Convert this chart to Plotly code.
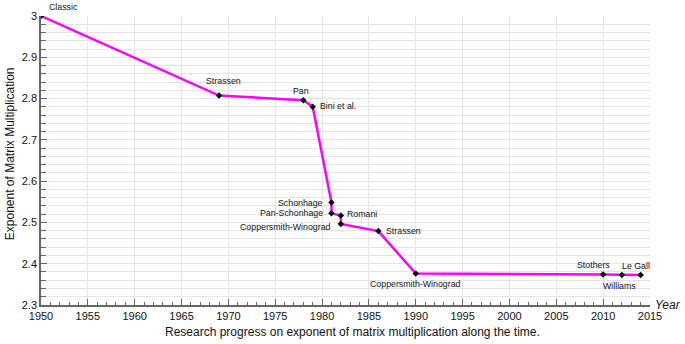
import plotly.graph_objects as go

# ---- data ----
years = [1950, 1969, 1978, 1979, 1981, 1981, 1982, 1982, 1986, 1990, 2010, 2012, 2014]
omega = [3.0, 2.8074, 2.796, 2.780, 2.548, 2.522, 2.517, 2.496, 2.479, 2.376, 2.374, 2.3729, 2.3728639]
names = ["Classic", "Strassen", "Pan", "Bini et al.", "Schonhage", "Pan-Schonhage",
         "Romani", "Coppersmith-Winograd", "Strassen", "Coppersmith-Winograd",
         "Stothers", "Williams", "Le Gall"]
x_ticks = list(range(1950, 2016, 5))

# ---- label placement (style) : (xanchor, xshift, yshift) ----
placement = [
    ("left", 6, 9),
    ("center", 4, 14.5),
    ("center", -2, 9.5),
    ("left", 5, 0.5),
    ("right", -6, 0),
    ("right", -6.5, 0),
    ("left", 4, 1.5),
    ("right", -8, -3.3),
    ("left", 6, 0),
    ("center", 0, -10.5),
    ("center", -10, 9),
    ("center", -2, -11),
    ("center", -5, 8.5),
]

FONT = "Liberation Sans, Arial, Helvetica, sans-serif"

fig = go.Figure()
fig.add_trace(go.Scatter(
    x=years, y=omega, mode="lines+markers",
    line=dict(color="#ff00ff", width=2.5),
    marker=dict(symbol="diamond", size=5, color="black"),
    hoverinfo="x+y", showlegend=False,
))

annotations = []
for xv, yv, name, (xa, xs, ys) in zip(years, omega, names, placement):
    annotations.append(dict(
        x=xv, y=yv, xref="x", yref="y", text=name, showarrow=False,
        xanchor=xa, yanchor="middle", xshift=xs, yshift=ys,
        font=dict(family=FONT, size=8.8, color="#111"),
    ))

annotations.append(dict(
    x=0.512, y=-0.095, xref="paper", yref="paper", showarrow=False,
    text="Research progress on exponent of matrix multiplication along the time.",
    xanchor="center", yanchor="middle",
    font=dict(family=FONT, size=12, color="#111"),
))
annotations.append(dict(
    x=-0.051, y=0.525, xref="paper", yref="paper", showarrow=False,
    text="Exponent of Matrix Multiplication", textangle=-90,
    xanchor="center", yanchor="middle",
    font=dict(family=FONT, size=12, color="#111"),
))
annotations.append(dict(
    x=1.0545, y=0.0, xref="paper", yref="paper", showarrow=False,
    text="<i>Year</i>", xanchor="right", yanchor="middle",
    font=dict(family=FONT, size=12, color="#111"),
))

axis_color = "#666666"
grid_color = "#e4e4e4"

fig.update_layout(
    width=685, height=344,
    margin=dict(l=41, r=35, t=10, b=39),
    paper_bgcolor="white", plot_bgcolor="white",
    font=dict(family=FONT, color="#111"),
    annotations=annotations,
    xaxis=dict(
        range=[1950, 2015], tickvals=x_ticks, ticktext=[str(v) for v in x_ticks],
        showgrid=True, gridcolor=grid_color, gridwidth=1,
        ticks="inside", ticklen=6, tickcolor=axis_color, tickwidth=1,
        showline=True, linecolor=axis_color, linewidth=1.5,
        zeroline=False, tickfont=dict(size=11, color="#111"),
        minor=dict(dtick=1, tick0=1950, ticks="inside", ticklen=3,
                   tickcolor=axis_color, showgrid=False),
    ),
    yaxis=dict(
        range=[2.3, 3.0], dtick=0.1, tick0=2.3,
        showgrid=True, gridcolor=grid_color, gridwidth=1,
        ticks="inside", ticklen=6, tickcolor=axis_color, tickwidth=1,
        showline=True, linecolor=axis_color, linewidth=1.5,
        zeroline=False, tickfont=dict(size=11, color="#111"),
        minor=dict(dtick=0.02, tick0=2.3, ticks="inside", ticklen=5,
                   tickcolor=axis_color, showgrid=True, gridcolor=grid_color),
    ),
)

fig.write_html(
    "out.html",
    config={"displayModeBar": False},
    post_script="document.body.style.margin='0';document.body.style.padding='0';"
                "document.body.style.overflow='hidden';",
)
